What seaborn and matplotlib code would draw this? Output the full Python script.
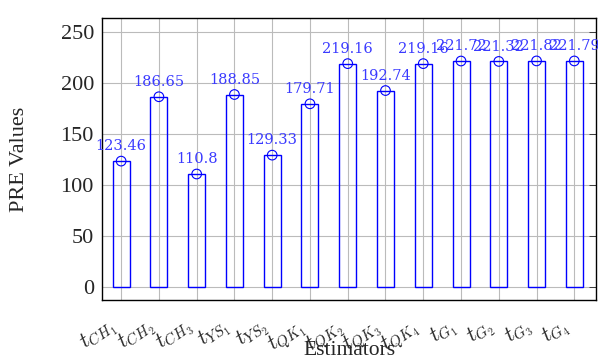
import matplotlib
matplotlib.use("Agg")
import matplotlib.pyplot as plt
import seaborn as sns
import pandas as pd

categories = ["tCH1", "tCH2", "tCH3", "tYS1", "tYS2", "tQK1", "tQK2", "tQK3", "tQK4",
              "tG1", "tG2", "tG3", "tG4"]
tick_labels = [r"$t_{CH_1}$", r"$t_{CH_2}$", r"$t_{CH_3}$", r"$t_{YS_1}$", r"$t_{YS_2}$",
               r"$t_{QK_1}$", r"$t_{QK_2}$", r"$t_{QK_3}$", r"$t_{QK_4}$",
               r"$t_{G_1}$", r"$t_{G_2}$", r"$t_{G_3}$", r"$t_{G_4}$"]
values = [123.46, 186.65, 110.8, 188.85, 129.33, 179.71, 219.16, 192.74, 219.16,
          221.72, 221.32, 221.82, 221.79]
value_labels = ["123.46", "186.65", "110.8", "188.85", "129.33", "179.71", "219.16",
                "192.74", "219.16", "221.72", "221.32", "221.82", "221.79"]

df = pd.DataFrame({"Estimator": categories, "PRE": values})

sns.set_style("white")
plt.rcParams["mathtext.fontset"] = "cm"
plt.rcParams["font.family"] = ["DejaVu Serif"]

fig = plt.figure(figsize=(5.98, 3.59), dpi=100)
ax = fig.add_axes([0.171, 0.164, 0.826, 0.786])

sns.barplot(data=df, x="Estimator", y="PRE", fill=False, color="blue", width=0.45,
            linewidth=1.0, ax=ax, zorder=3)
sns.scatterplot(data=df, x="Estimator", y="PRE", marker="o", s=48, facecolor="none",
                edgecolor="blue", linewidth=0.8, ax=ax, zorder=4)
for i, v in enumerate(values):
    ax.annotate(value_labels[i], (i, v), xytext=(0, 5.5), textcoords="offset points",
                ha="center", va="bottom", color="#3a3aff", fontsize=10.5,
                family="DejaVu Serif", zorder=5)

ax.set_xlim(-0.5, 12.58)
ax.set_ylim(-13, 264)
ax.set_yticks([0, 50, 100, 150, 200, 250])
ax.set_xticks(range(len(categories)))
ax.set_xticklabels(tick_labels, rotation=35, ha="right", va="top",
                   rotation_mode="default", fontsize=15.5)
ax.tick_params(axis="x", direction="out", length=8, width=0.6, color="#555555", pad=2)
ax.tick_params(axis="y", direction="in", length=5, width=0.6, labelsize=16, right=True, pad=6)
for lab in ax.get_yticklabels():
    lab.set_family("Liberation Serif")
ax.grid(True, color="#bbbbbb", linewidth=0.8, zorder=0)
ax.set_axisbelow(True)
for s in ax.spines.values():
    s.set_color("black")
    s.set_linewidth(1.0)
ax.set_xlabel("Estimators", family="Liberation Serif", fontsize=15.5)
ax.xaxis.set_label_coords(0.5, -0.145)
ax.set_ylabel("PRE Values", family="Liberation Serif", fontsize=16)
ax.yaxis.set_label_coords(-0.148, 0.5)

fig.savefig("out.png", dpi=100)
